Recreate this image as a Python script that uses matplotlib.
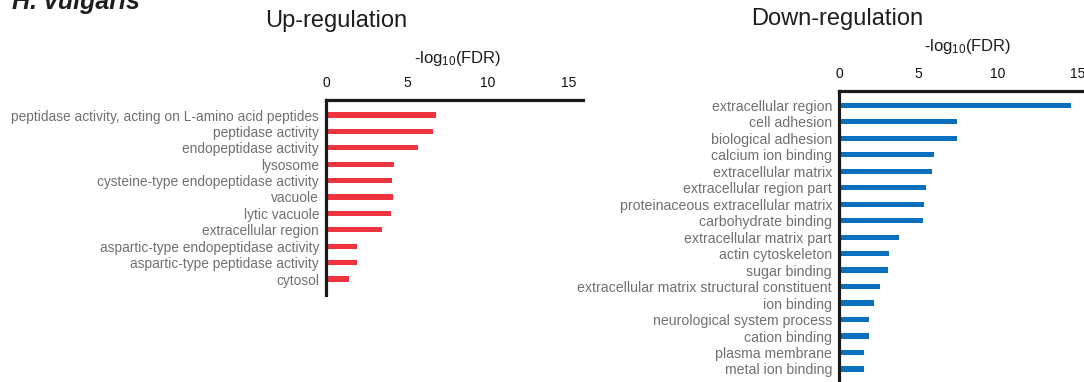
import matplotlib
matplotlib.use("Agg")
import matplotlib.pyplot as plt

plt.rcParams["font.family"] = ["Liberation Sans", "DejaVu Sans"]
plt.rcParams["mathtext.fontset"] = "custom"
plt.rcParams["mathtext.rm"] = "Liberation Sans"
plt.rcParams["mathtext.it"] = "Liberation Sans:italic"
plt.rcParams["mathtext.bf"] = "Liberation Sans:bold"

# GO terms enriched among up-regulated genes
up_terms = [
    "peptidase activity, acting on L-amino acid peptides",
    "peptidase activity",
    "endopeptidase activity",
    "lysosome",
    "cysteine-type endopeptidase activity",
    "vacuole",
    "lytic vacuole",
    "extracellular region",
    "aspartic-type endopeptidase activity",
    "aspartic-type peptidase activity",
    "cytosol",
]
up_values = [6.8, 6.6, 5.7, 4.2, 4.1, 4.15, 4.0, 3.45, 1.9, 1.9, 1.4]

# GO terms enriched among down-regulated genes
down_terms = [
    "extracellular region",
    "cell adhesion",
    "biological adhesion",
    "calcium ion binding",
    "extracellular matrix",
    "extracellular region part",
    "proteinaceous extracellular matrix",
    "carbohydrate binding",
    "extracellular matrix part",
    "actin cytoskeleton",
    "sugar binding",
    "extracellular matrix structural constituent",
    "ion binding",
    "neurological system process",
    "cation binding",
    "plasma membrane",
    "metal ion binding",
]
down_values = [14.6, 7.45, 7.45, 6.0, 5.85, 5.5, 5.35, 5.3, 3.8, 3.15, 3.1,
               2.6, 2.2, 1.9, 1.9, 1.6, 1.6]

x_ticks = [0, 5, 10, 15]
x_label = r"-log$_{10}$(FDR)"

W, H = 1084, 382
fig = plt.figure(figsize=(W / 100, H / 100), dpi=100)


def px_axes(x0, x1, y_top, y_bot):
    return fig.add_axes([x0 / W, (H - y_bot) / H, (x1 - x0) / W, (y_bot - y_top) / H])


def draw_panel(ax, terms, values, color, px_unit, first_y, step, y_top, y_bot,
               x0, x1, label_size):
    n = len(terms)
    pos = list(range(n))
    ax.barh(pos, values, height=0.32, color=color, zorder=2)
    ax.set_xlim(0, (x1 - x0) / px_unit)
    ax.set_ylim((y_bot - first_y) / step, (y_top - first_y) / step)
    ax.set_yticks(pos)
    ax.set_yticklabels(terms, fontsize=label_size, color="#707070")
    ax.set_xticks(x_ticks)
    ax.xaxis.tick_top()
    ax.tick_params(axis="x", length=0, pad=7, labelsize=10, labelcolor="#111111")
    ax.tick_params(axis="y", length=0, pad=5)
    for side in ("right", "bottom"):
        ax.spines[side].set_visible(False)
    for side in ("top", "left"):
        ax.spines[side].set_linewidth(2.3)
        ax.spines[side].set_color("#1a1a1a")
    ax.set_facecolor("none")


# Up-regulation panel
ax_up = px_axes(326, 583, 100, 295)
draw_panel(ax_up, up_terms, up_values, "#ee343e", 16.2, 115, 16.4, 100, 295,
           326, 583, 9.9)

# Down-regulation panel (runs off the right and bottom edges)
ax_dn = px_axes(839, 1090, 91, 386)
draw_panel(ax_dn, down_terms, down_values, "#0a70be", 15.9, 105.3, 16.48, 91, 386,
           839, 1090, 10.2)


def ftext(x, y, s, **kw):
    fig.text(x / W, 1 - y / H, s, ha="center", va="center", **kw)


ftext(336, 21, "Up-regulation", fontsize=17, color="#1e1e1e")
ftext(837, 19, "Down-regulation", fontsize=17, color="#1e1e1e")
ftext(458, 59, x_label, fontsize=12, color="#1e1e1e")
ftext(968, 47, x_label, fontsize=12, color="#1e1e1e")
fig.text(12 / W, 1 - 9 / H, "H. vulgaris", ha="left", va="baseline",
         fontsize=18, fontweight="bold", fontstyle="italic", color="#1e1e1e")

fig.savefig("out.png", dpi=100)
